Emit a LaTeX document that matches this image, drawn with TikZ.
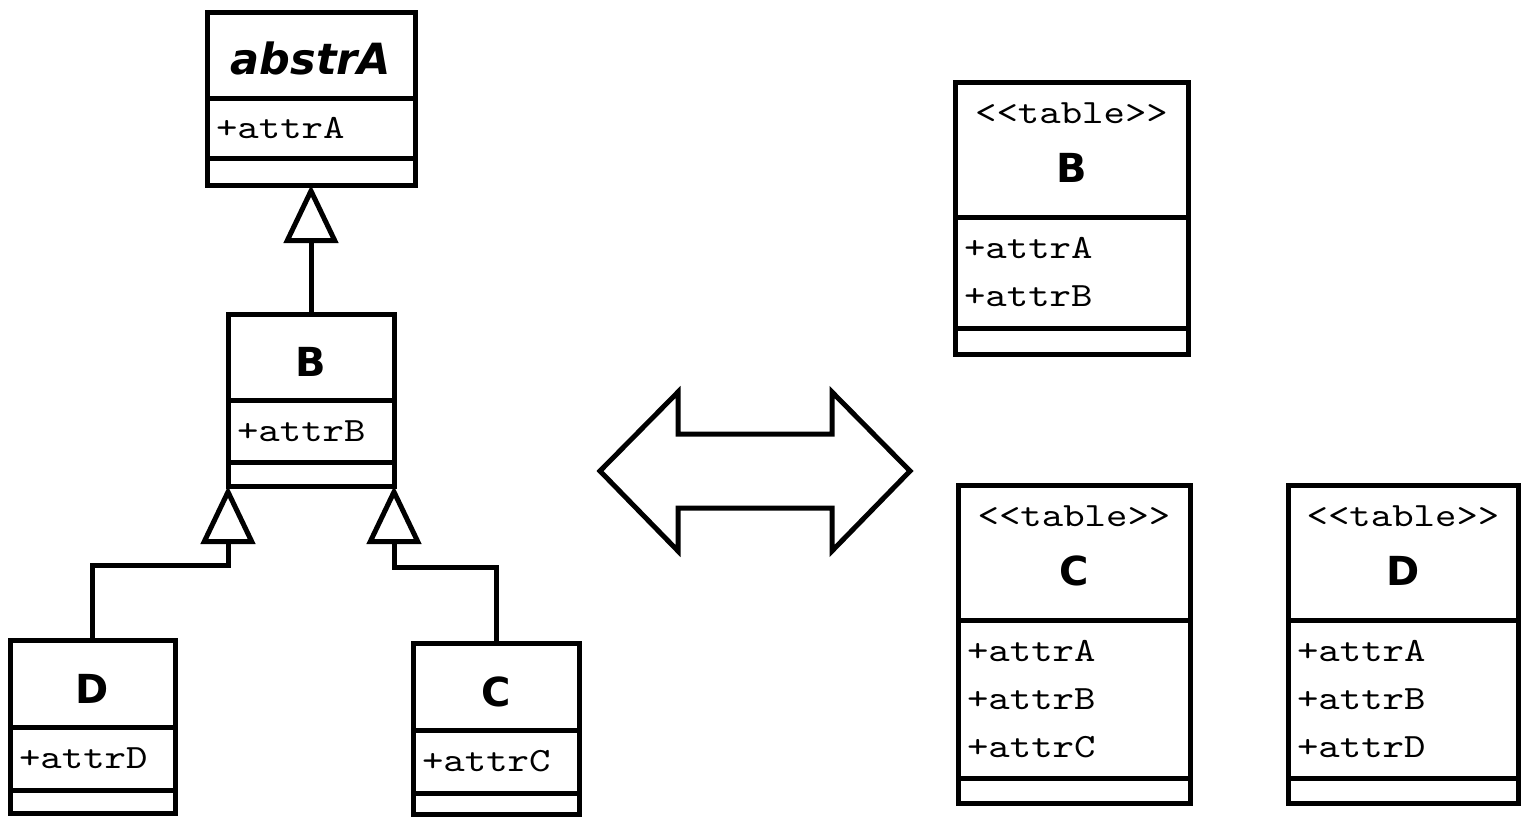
\documentclass[tikz,border=0pt]{standalone}
\usepackage{fontspec}
\usetikzlibrary{positioning,arrows.meta}
\newfontfamily\dejavu{DejaVu Sans}
\newfontfamily\monofnt{lmmono10-regular.otf}[FakeStretch=1.2]
\newcommand\namefont{\dejavu\bfseries\fontsize{40}{48}\selectfont}
\newcommand\attrfont{\monofnt\mdseries\upshape\fontsize{34}{48}\selectfont}
\newcommand\stereo{{\attrfont<\kern0pt<table>\kern0pt>}}
\tikzset{
  compart/.style={draw, line width=5pt, outer sep=0pt, inner sep=0pt, fill=white},
  wd/.code={\pgfmathsetlengthmacro\attrwd{#1-18pt}\tikzset{minimum width=#1, text width=\attrwd}},
  clstitle/.style={compart, anchor=north west, font=\namefont, align=center},
  lowname/.style={text height=39pt, text depth=0pt},
  attrs/.style={compart, font=\attrfont, align=left, inner xsep=9pt},
  ops/.style={compart},
  inherit/.style={line width=5pt, -{Triangle[open, length=58pt, width=54pt]}}
}
\begin{document}
\begin{tikzpicture}[x=1pt, y=-1pt]
  \useasboundingbox (0,0) rectangle (1530,822);
  % class hierarchy
  \node[clstitle, lowname, wd=208, minimum height=86] (A) at (207,12) {\fontsize{43}{48}\selectfont\itshape abstrA};
  \node[attrs, wd=208, minimum height=60, below=0pt of A] (A-attr) {+attrA};
  \node[ops, wd=208, minimum height=27, below=0pt of A-attr] (A-ops) {};

  \node[clstitle, lowname, wd=166, minimum height=86] (B) at (228,314) {B};
  \node[attrs, wd=166, minimum height=62, below=0pt of B] (B-attr) {+attrB};
  \node[ops, wd=166, minimum height=24, below=0pt of B-attr] (B-ops) {};

  \node[clstitle, lowname, wd=165, minimum height=87] (D) at (10,640) {D};
  \node[attrs, wd=165, minimum height=63, below=0pt of D] (D-attr) {+attrD};
  \node[ops, wd=165, minimum height=23, below=0pt of D-attr] (D-ops) {};

  \node[clstitle, lowname, wd=166, minimum height=87] (C) at (413,643) {C};
  \node[attrs, wd=166, minimum height=63, below=0pt of C] (C-attr) {+attrC};
  \node[ops, wd=166, minimum height=21, below=0pt of C-attr] (C-ops) {};

  \draw[inherit] (B.north) -- (A-ops.south);
  \draw[inherit] (D.north) -- ++(0,-75) -| (B-ops.south west);
  \draw[inherit] (C.north) -- ++(0,-76) -| (B-ops.south east);

  % mapping
  \draw[line width=5pt, line join=miter] (600,471) -- (678,392) -- (678,434) -- (832,434)
    -- (832,392) -- (910,471) -- (832,551) -- (832,508) -- (678,508) -- (678,551) -- cycle;

  % tables
  \node[clstitle, wd=233, minimum height=135] (TB) at (955,82) {\stereo\\[11pt]B\strut};
  \node[attrs, wd=233, minimum height=111, below=0pt of TB] (TB-attr) {+attrA\\+attrB};
  \node[ops, wd=233, minimum height=26, below=0pt of TB-attr] (TB-ops) {};

  \node[clstitle, wd=232, minimum height=135] (TC) at (958,485) {\stereo\\[11pt]C\strut};
  \node[attrs, wd=232, minimum height=158, below=0pt of TC] (TC-attr) {+attrA\\+attrB\\+attrC};
  \node[ops, wd=232, minimum height=25, below=0pt of TC-attr] (TC-ops) {};

  \node[clstitle, wd=230, minimum height=135] (TD) at (1288,485) {\stereo\\[11pt]D\strut};
  \node[attrs, wd=230, minimum height=158, below=0pt of TD] (TD-attr) {+attrA\\+attrB\\+attrD};
  \node[ops, wd=230, minimum height=25, below=0pt of TD-attr] (TD-ops) {};
\end{tikzpicture}
\end{document}
